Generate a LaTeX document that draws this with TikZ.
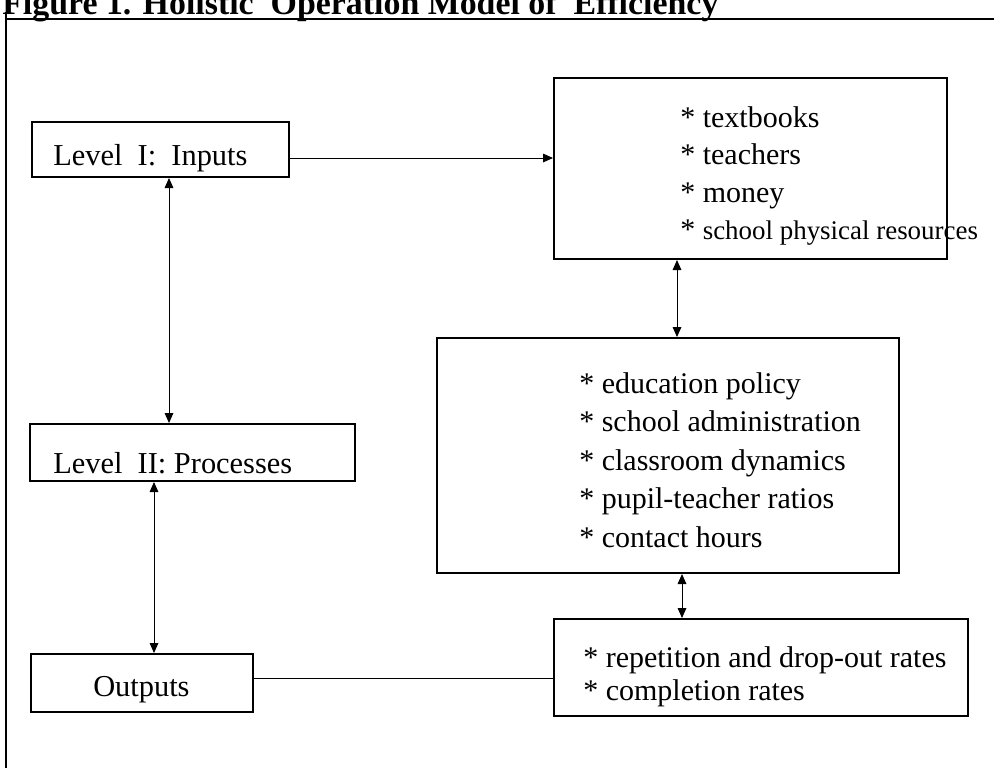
\documentclass[tikz,border=0pt]{standalone}
\usepackage{fontspec}
\setmainfont{Liberation Serif}
\usetikzlibrary{arrows.meta}

\begin{document}
\begin{tikzpicture}[x=0.75pt,y=0.75pt,yscale=-1,xscale=1,
  box/.style={draw,line width=1.5pt,inner sep=0pt},
  txt/.style={anchor=west,inner sep=0pt,align=left},
  conn/.style={line width=0.75pt},
  tip/.style={-{Triangle[length=7.5pt,width=6.5pt]}},
  tips/.style={{Triangle[length=7.5pt,width=6.5pt]}-{Triangle[length=7.5pt,width=6.5pt]}}]

\useasboundingbox (0,0) rectangle (994,768);

% Title
\draw (2,14) node [anchor=base west,inner sep=0pt] (title) {\fontsize{25.4}{30}\selectfont\bfseries Figure 1. Holistic\ \ Operation Model of\ \ Efficiency};
%Straight Lines (page frame)
\draw [line width=1pt] (6,12) -- (6,768) ;
\draw [line width=1pt] (6,19) -- (994,19) ;

%Shape: Rectangle
\node [box,minimum width=192.75pt,minimum height=41.25pt] (inputs) at (160.5,149.5) {};
%Shape: Rectangle
\node [box,minimum width=243.75pt,minimum height=42.75pt] (processes) at (192.5,452.5) {};
%Shape: Rectangle
\node [box,minimum width=166.5pt,minimum height=43.5pt] (outputs) at (142,683) {};
%Shape: Rectangle
\node [box,minimum width=294.75pt,minimum height=135.75pt] (resources) at (750.5,168.5) {};
%Shape: Rectangle
\node [box,minimum width=346.5pt,minimum height=176.25pt] (policy) at (668,455.5) {};
%Shape: Rectangle
\node [box,minimum width=310.5pt,minimum height=72.75pt] (rates) at (761,667.5) {};

% Text Node
\node [txt,font=\fontsize{22.8}{27}\selectfont] (inputstxt) at (53,158) {Level\ \ I:\ \ Inputs};
% Text Node
\node [txt,font=\fontsize{22.8}{27}\selectfont] (processestxt) at (53,463) {Level\ \ II: Processes};
% Text Node
\node [txt,font=\fontsize{22.8}{27}\selectfont] (outputstxt) at (93,690) {Outputs};
% Text Node
\node [txt,font=\fontsize{22.5}{27.8}\selectfont] (resourcestxt) at (680,176) {* textbooks\\* teachers\\* money\\* {\fontsize{20.2}{24}\selectfont school physical resources}};
% Text Node
\node [txt,font=\fontsize{22.5}{28.9}\selectfont] (policytxt) at (579,460) {* education policy\\* school administration\\* classroom dynamics\\* pupil-teacher ratios\\* contact hours};
% Text Node
\node [txt,font=\fontsize{22.5}{24.75}\selectfont] (ratestxt) at (583,677) {* repetition and drop-out rates\\* completion rates};

%Straight Lines
\draw [conn,tip] (inputs.east |- 0,158) -- (resources.west |- 0,158) ;
%Straight Lines
\draw [conn,tips] (inputs.south -| 169,0) -- (processes.north -| 169,0) ;
%Straight Lines
\draw [conn,tips] (processes.south -| 154,0) -- (outputs.north -| 154,0) ;
%Straight Lines
\draw [conn,tips] (resources.south -| 677,0) -- (policy.north -| 677,0) ;
%Straight Lines
\draw [conn,tips] (policy.south -| 682,0) -- (rates.north -| 682,0) ;
%Straight Lines
\draw [conn] (outputs.east |- 0,678) -- (rates.west |- 0,678) ;
\end{tikzpicture}
\end{document}
